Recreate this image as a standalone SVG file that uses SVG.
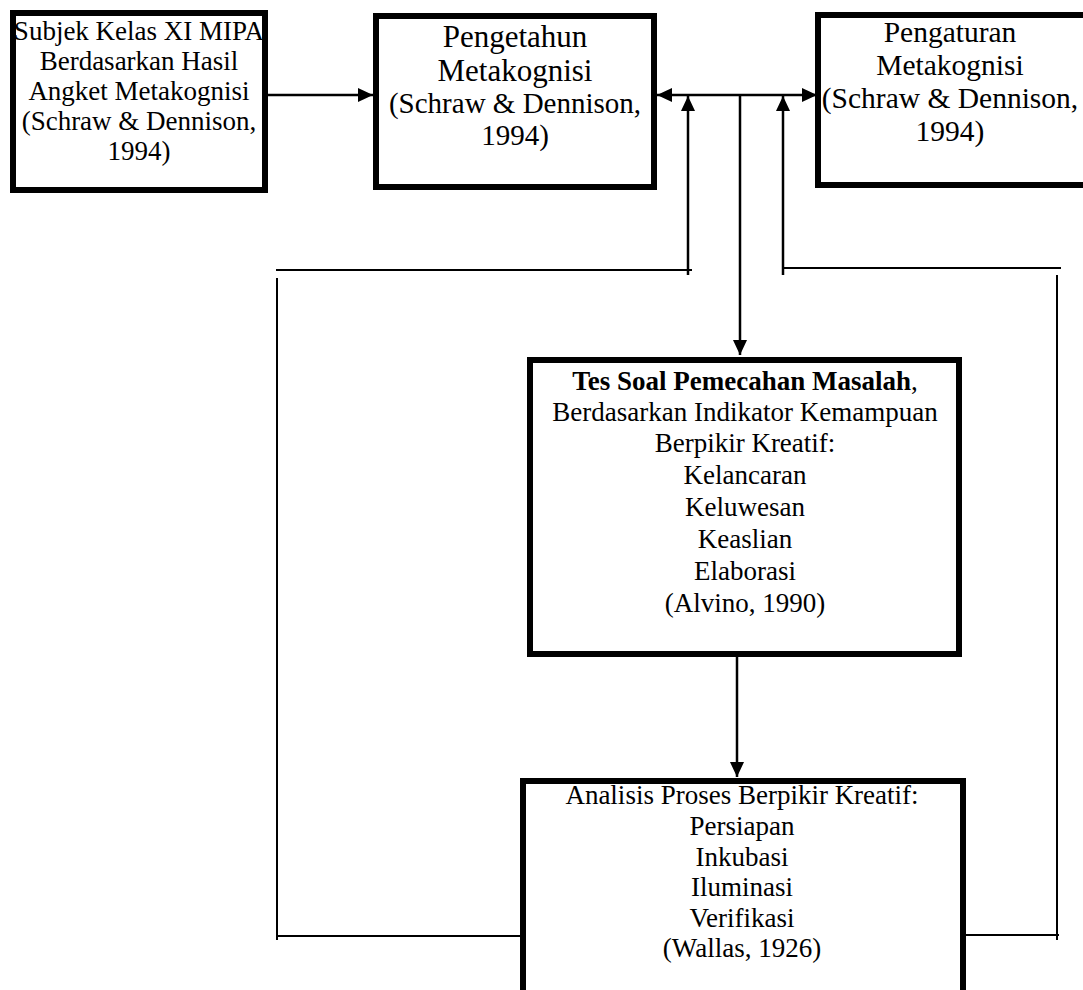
<svg xmlns="http://www.w3.org/2000/svg" width="1083" height="990" viewBox="0 0 1083 990">
<defs>
<style>
.box{fill:#fff;stroke:#000;stroke-width:6}
.t{font-family:"Liberation Serif","Times New Roman",serif;fill:#000;text-anchor:middle}
.c{fill:none;stroke:#000;stroke-width:2.5}
.l{fill:none;stroke:#000;stroke-width:2}
</style>
<marker id="ah" viewBox="0 0 15 14" refX="15" refY="7" markerWidth="15" markerHeight="14" markerUnits="userSpaceOnUse" orient="auto-start-reverse">
<path d="M0,0 L15,7 L0,14 z" fill="#000"/>
</marker>
</defs>
<rect width="1083" height="990" fill="#fff"/>
<g id="connectors">
<line class="c" x1="268" y1="95" x2="373" y2="95" marker-end="url(#ah)"/>
<line class="c" x1="657" y1="95" x2="817" y2="95" marker-start="url(#ah)" marker-end="url(#ah)"/>
<line class="c" x1="740" y1="95" x2="740" y2="355" marker-end="url(#ah)"/>
<line class="c" x1="688" y1="275" x2="688" y2="96" marker-end="url(#ah)"/>
<line class="c" x1="783" y1="275" x2="783" y2="96" marker-end="url(#ah)"/>
<line class="l" x1="276" y1="270" x2="692" y2="270"/>
<line class="l" x1="277" y1="278" x2="277" y2="940"/>
<line class="l" x1="277" y1="936" x2="522" y2="936"/>
<line class="l" x1="783" y1="268" x2="1061" y2="268"/>
<line class="l" x1="1057" y1="275" x2="1057" y2="940"/>
<line class="l" x1="966" y1="935" x2="1059" y2="935"/>
<line class="c" x1="737" y1="657" x2="737" y2="777" marker-end="url(#ah)"/>
</g>
<g id="node1">
<rect class="box" x="13" y="13" width="252" height="177"/>
<text class="t" font-size="27" x="139"><tspan x="139" y="40">Subjek Kelas XI MIPA</tspan><tspan x="139" y="70">Berdasarkan Hasil</tspan><tspan x="139" y="100">Angket Metakognisi</tspan><tspan x="139" y="130">(Schraw &amp; Dennison,</tspan><tspan x="139" y="160">1994)</tspan></text>
</g>
<g id="node2">
<rect class="box" x="376" y="16" width="278" height="171"/>
<text class="t" font-size="29" x="515"><tspan x="515" y="47" font-size="31">Pengetahun</tspan><tspan x="515" y="81" font-size="31">Metakognisi</tspan><tspan x="515" y="113">(Schraw &amp; Dennison,</tspan><tspan x="515" y="145">1994)</tspan></text>
</g>
<g id="node3">
<rect class="box" x="818" y="15" width="272" height="170"/>
<text class="t" font-size="29.5" x="950"><tspan x="950" y="42">Pengaturan</tspan><tspan x="950" y="75">Metakognisi</tspan><tspan x="950" y="108">(Schraw &amp; Dennison,</tspan><tspan x="950" y="141">1994)</tspan></text>
</g>
<g id="node4">
<rect class="box" x="530" y="360" width="429" height="294"/>
<text class="t" font-size="27" x="745"><tspan x="745" y="390"><tspan font-weight="bold">Tes Soal Pemecahan Masalah</tspan>,</tspan><tspan x="745" y="421">Berdasarkan Indikator Kemampuan</tspan><tspan x="745" y="452">Berpikir Kreatif:</tspan><tspan x="745" y="484">Kelancaran</tspan><tspan x="745" y="516">Keluwesan</tspan><tspan x="745" y="548">Keaslian</tspan><tspan x="745" y="580">Elaborasi</tspan><tspan x="745" y="612">(Alvino, 1990)</tspan></text>
</g>
<g id="node5">
<rect class="box" x="523" y="781" width="440" height="230"/>
<text class="t" font-size="27" x="742"><tspan x="742" y="804">Analisis Proses Berpikir Kreatif:</tspan><tspan x="742" y="835">Persiapan</tspan><tspan x="742" y="866">Inkubasi</tspan><tspan x="742" y="896">Iluminasi</tspan><tspan x="742" y="927">Verifikasi</tspan><tspan x="742" y="957">(Wallas, 1926)</tspan></text>
</g>
</svg>
